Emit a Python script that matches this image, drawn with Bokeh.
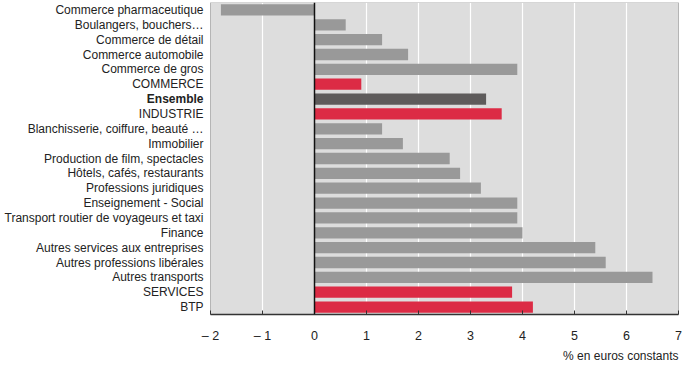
from bokeh.plotting import figure
from bokeh.models import ColumnDataSource, Range1d, FixedTicker, Span, Title
from bokeh.transform import factor_cmap
from bokeh.embed import file_html
from bokeh.resources import INLINE

categories = [
    "Commerce pharmaceutique", "Boulangers, bouchers…", "Commerce de détail",
    "Commerce automobile", "Commerce de gros", "COMMERCE", "Ensemble", "INDUSTRIE",
    "Blanchisserie, coiffure, beauté …", "Immobilier", "Production de film, spectacles",
    "Hôtels, cafés, restaurants", "Professions juridiques", "Enseignement - Social",
    "Transport routier de voyageurs et taxi", "Finance", "Autres services aux entreprises",
    "Autres professions libérales", "Autres transports", "SERVICES", "BTP",
]
values = [-1.8, 0.6, 1.3, 1.8, 3.9, 0.9, 3.3, 3.6, 1.3, 1.7, 2.6, 2.8, 3.2, 3.9, 3.9,
          4.0, 5.4, 5.6, 6.5, 3.8, 4.2]
kinds = ["secteur"] * 5 + ["agrégat", "ensemble", "agrégat"] + ["secteur"] * 11 + ["agrégat", "agrégat"]
x_ticks = [-2, -1, 0, 1, 2, 3, 4, 5, 6, 7]
x_tick_labels = ["– 2", "– 1", "0", "1", "2", "3", "4", "5", "6", "7"]
x_title = "% en euros constants"

n = len(categories)
x_min, x_max = x_ticks[0], x_ticks[-1]
ypos = [n - 1 - i for i in range(n)]

src = ColumnDataSource(dict(cat=categories, val=values, kind=kinds, y=ypos,
                            left=[min(0, v) for v in values], right=[max(0, v) for v in values]))
idx_n = [i for i, k in enumerate(kinds) if k != "ensemble"]
idx_b = [i for i, k in enumerate(kinds) if k == "ensemble"]
src_n = ColumnDataSource(dict(cat=[categories[i] for i in idx_n], y=[ypos[i] for i in idx_n],
                              lx=[x_min] * len(idx_n)))
src_b = ColumnDataSource(dict(cat=[categories[i] for i in idx_b], y=[ypos[i] for i in idx_b],
                              lx=[x_min] * len(idx_b)))

W, H = 684, 364
left_px, right_px = 210, 678
scale = (right_px - left_px) / (x_max - x_min)
xr = Range1d(x_min - left_px / scale, x_max + (W - right_px) / scale)

p = figure(width=W, height=H, output_backend="svg", toolbar_location=None,
           x_range=xr, y_range=Range1d(-0.5, n - 0.5),
           min_border_left=0, min_border_right=0, min_border_top=2, min_border_bottom=0)
p.background_fill_color = "white"
p.border_fill_color = "white"
p.outline_line_color = None
p.xgrid.grid_line_color = None
p.ygrid.grid_line_color = None
p.yaxis.visible = False

# plot area
p.quad(left=[x_min], right=[x_max], bottom=[-0.5], top=[n - 0.5],
       fill_color="#dddddd", line_color=None)
inner = x_ticks[1:-1]
p.segment(x0=inner, x1=inner, y0=[-0.5] * len(inner), y1=[n - 0.5] * len(inner),
          line_color="white", line_width=1.2)

p.hbar(y="y", left="left", right="right", height=0.76, source=src, line_color=None,
       fill_color=factor_cmap("kind", palette=["#999999", "#dc2b45", "#5e5b5b"],
                              factors=["secteur", "agrégat", "ensemble"]))

p.quad(left=[x_min], right=[x_max], bottom=[-0.5], top=[n - 0.5],
       fill_color=None, line_color="#b5b5b5", line_width=1)
p.add_layout(Span(location=0, dimension="height", line_color="#111111", line_width=1.5))

for s, st in ((src_n, "normal"), (src_b, "bold")):
    p.text(x="lx", y="y", text="cat", source=s, x_offset=-7,
           text_align="right", text_baseline="middle",
           text_font={"value": "Liberation Sans"}, text_font_size="12px",
           text_color="#222222", text_font_style=st)

ax = p.xaxis[0]
ax.bounds = (x_min, x_max)
ax.ticker = FixedTicker(ticks=x_ticks)
ax.major_label_overrides = {t: l for t, l in zip(x_ticks, x_tick_labels)}
ax.major_tick_in = 4
ax.major_tick_out = 0
ax.minor_tick_line_color = None
ax.axis_line_color = "#333333"
ax.axis_line_width = 1.5
ax.major_tick_line_color = "#333333"
ax.major_label_text_font = "Liberation Sans"
ax.major_label_text_font_size = "12.5px"
ax.major_label_text_color = "#222222"
ax.major_label_standoff = 14

p.add_layout(Title(text=x_title, align="right", text_font="Liberation Sans",
                   text_font_size="12px", text_font_style="normal", text_color="#222222",
                   standoff=3, offset=W - right_px), "below")

open("out.html", "w").write(file_html(p, INLINE))
